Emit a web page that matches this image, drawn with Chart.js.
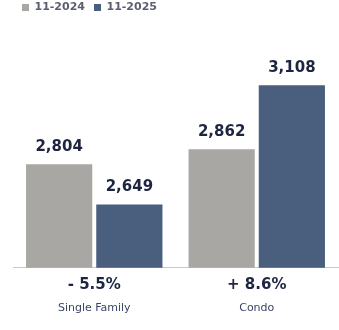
<!DOCTYPE html>
<html>
<head>
<meta charset="utf-8">
<script src="https://cdn.jsdelivr.net/npm/chart.js@4/dist/chart.umd.min.js"></script>
<style>
  html, body { margin: 0; padding: 0; background: #fff; }
  #wrap { width: 339px; height: 330px; position: relative; }
</style>
</head>
<body>
<div id="wrap"><canvas id="salesChart"></canvas></div>
<script>
const changeLabels = ["- 5.5%", "+ 8.6%"]
const propertyTypes = ["Single Family", "Condo"]
const sales2024 = [2804, 2862]
const sales2025 = [2649, 3108]
const seriesNames = ["11-2024", "11-2025"]

const GRAY = "#a8a7a3"
const BLUE = "#4a5e7e"
const NAVY = "#1e2541"

// value labels over each bar
const barValues = {
    id: "barValues",
    afterDatasetsDraw(chart){
        const ctx = chart.ctx
        ctx.save()
        ctx.font = "bold 15px 'DejaVu Sans'"
        ctx.fillStyle = NAVY
        ctx.textAlign = "center"
        ctx.textBaseline = "middle"
        chart.data.datasets.forEach((ds, i) => {
            chart.getDatasetMeta(i).data.forEach((bar, j) => {
                ctx.fillText(ds.data[j].toLocaleString("en-US"), bar.x, bar.y - 17)
            })
        })
        ctx.restore()
    }
}

new Chart(document.getElementById("salesChart"), {
    type: "bar",
    data: {
        labels: changeLabels,
        datasets: [
            { label: seriesNames[0], data: sales2024, backgroundColor: GRAY },
            { label: seriesNames[1], data: sales2025, backgroundColor: BLUE }
        ]
    },
    options: {
        responsive: true,
        maintainAspectRatio: false,
        animation: false,
        layout: { padding: { left: 13, right: 1, top: -7, bottom: 7 } },
        datasets: {
            bar: { categoryPercentage: 0.864, barPercentage: 0.943 }
        },
        plugins: {
            tooltip: { enabled: false },
            legend: {
                position: "top",
                align: "start",
                labels: {
                    boxWidth: 7,
                    boxHeight: 7,
                    padding: 9,
                    color: "#5a5f70",
                    font: { family: "'DejaVu Sans'", size: 11, weight: "bold" }
                }
            }
        },
        scales: {
            y: {
                display: false,
                min: 2405,
                max: 3348
            },
            x: {
                weight: 0,
                grid: { display: false },
                border: { display: true, color: "#c8c8c8", width: 1 },
                ticks: {
                    padding: 0,
                    color: NAVY,
                    font: { family: "'DejaVu Sans'", size: 15, weight: "bold" }
                }
            },
            x2: {
                type: "category",
                position: "bottom",
                weight: 1,
                labels: propertyTypes,
                grid: { display: false, drawTicks: false },
                border: { display: false },
                ticks: {
                    padding: 8,
                    color: "#3a4566",
                    font: { family: "'DejaVu Sans'", size: 11 }
                }
            }
        }
    },
    plugins: [barValues]
})
</script>
</body>
</html>
